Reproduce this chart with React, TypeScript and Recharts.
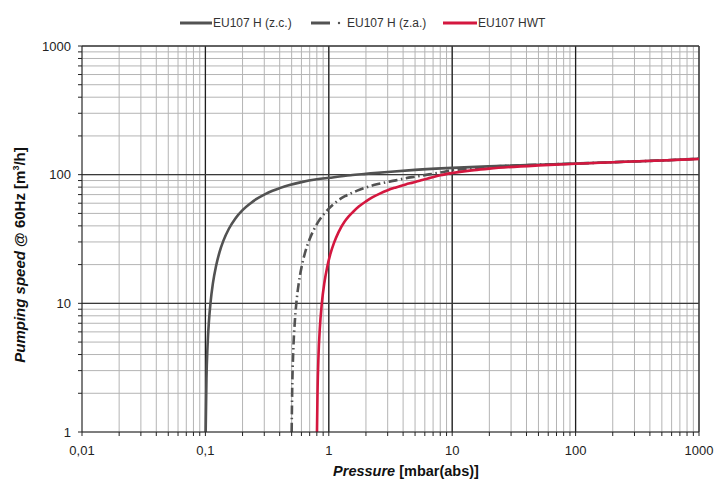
import React from "react";
import {
  LineChart,
  Line,
  XAxis,
  YAxis,
  CartesianGrid,
  ReferenceLine,
  Label,
} from "recharts";

// pressure [mbar(abs)] / pumping speed [m3/h]
const zcPressure = [0.1005, 0.102, 0.104, 0.107, 0.11, 0.115, 0.122, 0.13, 0.14, 0.155, 0.175, 0.2, 0.23, 0.26, 0.3, 0.35, 0.4, 0.48, 0.6, 0.8, 1, 1.5, 2, 3, 5, 10, 20, 50, 100, 200, 500, 1000];
const zcSpeed = [1, 2.6, 4.6, 7.4, 10.1, 14.3, 19.5, 24.9, 30.7, 38, 45.7, 53, 59.5, 64.8, 70, 75, 78.6, 83, 87.5, 92, 94.5, 99, 101.5, 105, 109, 113, 116, 119.5, 122, 125, 129, 133];

const zaPressure = [0.5, 0.505, 0.515, 0.53, 0.545, 0.57, 0.6, 0.64, 0.7, 0.8, 0.9, 1, 1.1, 1.2, 1.35, 1.5, 1.7, 2, 2.4, 2.94, 3.4, 4, 5, 6.5, 8, 10, 13, 20, 50, 100, 200, 500, 1000];
const zaSpeed = [1, 2.1, 4.2, 7.1, 9.9, 14.2, 18.9, 24.5, 31.6, 41.2, 48.6, 54.5, 59.3, 63.5, 68, 71.4, 75.2, 79.5, 83.8, 87.5, 89.9, 93, 96.5, 100.5, 104, 108, 111, 115, 119.5, 122, 125, 129, 133];

const hwtPressure = [0.802, 0.81, 0.825, 0.845, 0.877, 0.92, 0.97, 1.03, 1.1, 1.2, 1.34, 1.45, 1.57, 1.75, 2, 2.25, 2.59, 3, 3.5, 4.2, 4.84, 5.6, 6.5, 8, 10, 15, 20, 50, 100, 200, 500, 1000];
const hwtSpeed = [1, 2, 3.9, 6.3, 9.9, 14.4, 19.1, 24.2, 29.4, 35.8, 43.1, 47.4, 51.3, 56.5, 62, 66.6, 71.3, 75.7, 79.6, 84, 87, 90.5, 94, 99, 103, 108.5, 111.5, 118, 121.5, 125, 129, 132.5];

const xTicks = [
  0.01, 0.02, 0.03, 0.04, 0.05, 0.06, 0.07, 0.08, 0.09,
  0.1, 0.2, 0.3, 0.4, 0.5, 0.6, 0.7, 0.8, 0.9,
  1, 2, 3, 4, 5, 6, 7, 8, 9,
  10, 20, 30, 40, 50, 60, 70, 80, 90,
  100, 200, 300, 400, 500, 600, 700, 800, 900, 1000,
];
const yTicks = [
  1, 2, 3, 4, 5, 6, 7, 8, 9,
  10, 20, 30, 40, 50, 60, 70, 80, 90,
  100, 200, 300, 400, 500, 600, 700, 800, 900, 1000,
];
const xLabels: Record<number, string> = { 0.01: "0,01", 0.1: "0,1", 1: "1", 10: "10", 100: "100", 1000: "1000" };
const yDecades = [1, 10, 100, 1000];
const xMajor = [0.1, 1, 10, 100, 1000];
const yMajor = [10, 100, 1000];

const seriesNames = ["EU107 H (z.c.)", "EU107 H (z.a.)", "EU107 HWT"];

const toRows = (p: number[], s: number[]) => p.map((v, i) => ({ p: v, s: s[i] }));
const zcData = toRows(zcPressure, zcSpeed);
const zaData = toRows(zaPressure, zaSpeed);
const hwtData = toRows(hwtPressure, hwtSpeed);

const GRAY = "#525252";
const RED = "#d4173f";
const FONT = "'Liberation Sans', Arial, sans-serif";

const LegendBar = () => (
  <div style={{ position: "absolute", left: 0, top: 15, width: 718, height: 16, fontFamily: FONT, fontSize: 12, color: "#333" }}>
    <svg width={718} height={16} style={{ position: "absolute", left: 0, top: 0 }}>
      <line x1={180} x2={212} y1={8} y2={8} stroke={GRAY} strokeWidth={3} />
      <line x1={311} x2={330} y1={8} y2={8} stroke={GRAY} strokeWidth={3} />
      <circle cx={339} cy={8} r={1.2} fill={GRAY} />
      <line x1={443} x2={477} y1={8} y2={8} stroke={RED} strokeWidth={3} />
    </svg>
    <span style={{ position: "absolute", left: 213, top: 0, lineHeight: "16px" }}>{seriesNames[0]}</span>
    <span style={{ position: "absolute", left: 347, top: 0, lineHeight: "16px" }}>{seriesNames[1]}</span>
    <span style={{ position: "absolute", left: 478, top: 0, lineHeight: "16px" }}>{seriesNames[2]}</span>
  </div>
);

export default function App() {
  return (
    <div style={{ position: "absolute", left: 0, top: 0, width: 718, height: 480, background: "#fff" }}>
      <LineChart
        width={718}
        height={480}
        margin={{ top: 46, right: 19, bottom: 0, left: 0 }}
        style={{ fontFamily: FONT }}
      >
        <CartesianGrid stroke="#b4b4b4" strokeWidth={1} />
        <XAxis
          type="number"
          dataKey="p"
          scale="log"
          domain={[0.01, 1000]}
          allowDataOverflow
          ticks={xTicks}
          interval={0}
          height={48}
          tickSize={4}
          tickMargin={10}
          tickFormatter={(v: number) => xLabels[v] ?? ""}
          tick={{ fill: "#222", fontSize: 13 }}
          stroke="#222"
        >
          <Label
            content={() => (
              <text x={406} y={476} textAnchor="middle" fontSize={14.5} fontWeight="bold" fill="#111" fontFamily={FONT}>
                <tspan fontStyle="italic">Pressure</tspan> [mbar(abs)]
              </text>
            )}
          />
        </XAxis>
        <YAxis
          type="number"
          dataKey="s"
          scale="log"
          domain={[1, 1000]}
          allowDataOverflow
          ticks={yTicks}
          interval={0}
          width={82}
          tickSize={4}
          tickMargin={7}
          tickFormatter={(v: number) => (yDecades.includes(v) ? String(v) : "")}
          tick={{ fill: "#222", fontSize: 13 }}
          stroke="#222"
        >
          <Label
            content={() => (
              <text
                x={25}
                y={255}
                textAnchor="middle"
                fontSize={15}
                fontWeight="bold"
                fill="#111"
                fontFamily={FONT}
                transform="rotate(-90 25 255)"
              >
                <tspan fontStyle="italic">Pumping speed</tspan> @ 60Hz [m<tspan fontSize={9} dy={-6}>3</tspan>
                <tspan dy={6}>/h]</tspan>
              </text>
            )}
          />
        </YAxis>
        {xMajor.map((v) => (
          <ReferenceLine key={`x${v}`} x={v} stroke="#1e1e1e" strokeWidth={1.3} />
        ))}
        {yMajor.map((v) => (
          <ReferenceLine key={`y${v}`} y={v} stroke="#3a3a3a" strokeWidth={1.3} />
        ))}
        <Line
          data={zcData}
          dataKey="s"
          name={seriesNames[0]}
          type="monotone"
          stroke={GRAY}
          strokeWidth={2.6}
          dot={false}
          isAnimationActive={false}
        />
        <Line
          data={zaData}
          dataKey="s"
          name={seriesNames[1]}
          type="monotone"
          stroke={GRAY}
          strokeWidth={2.6}
          strokeDasharray="9 3.5 1.5 3.5"
          dot={false}
          isAnimationActive={false}
        />
        <Line
          data={hwtData}
          dataKey="s"
          name={seriesNames[2]}
          type="monotone"
          stroke={RED}
          strokeWidth={2.6}
          dot={false}
          isAnimationActive={false}
        />
      </LineChart>
      <LegendBar />
    </div>
  );
}
